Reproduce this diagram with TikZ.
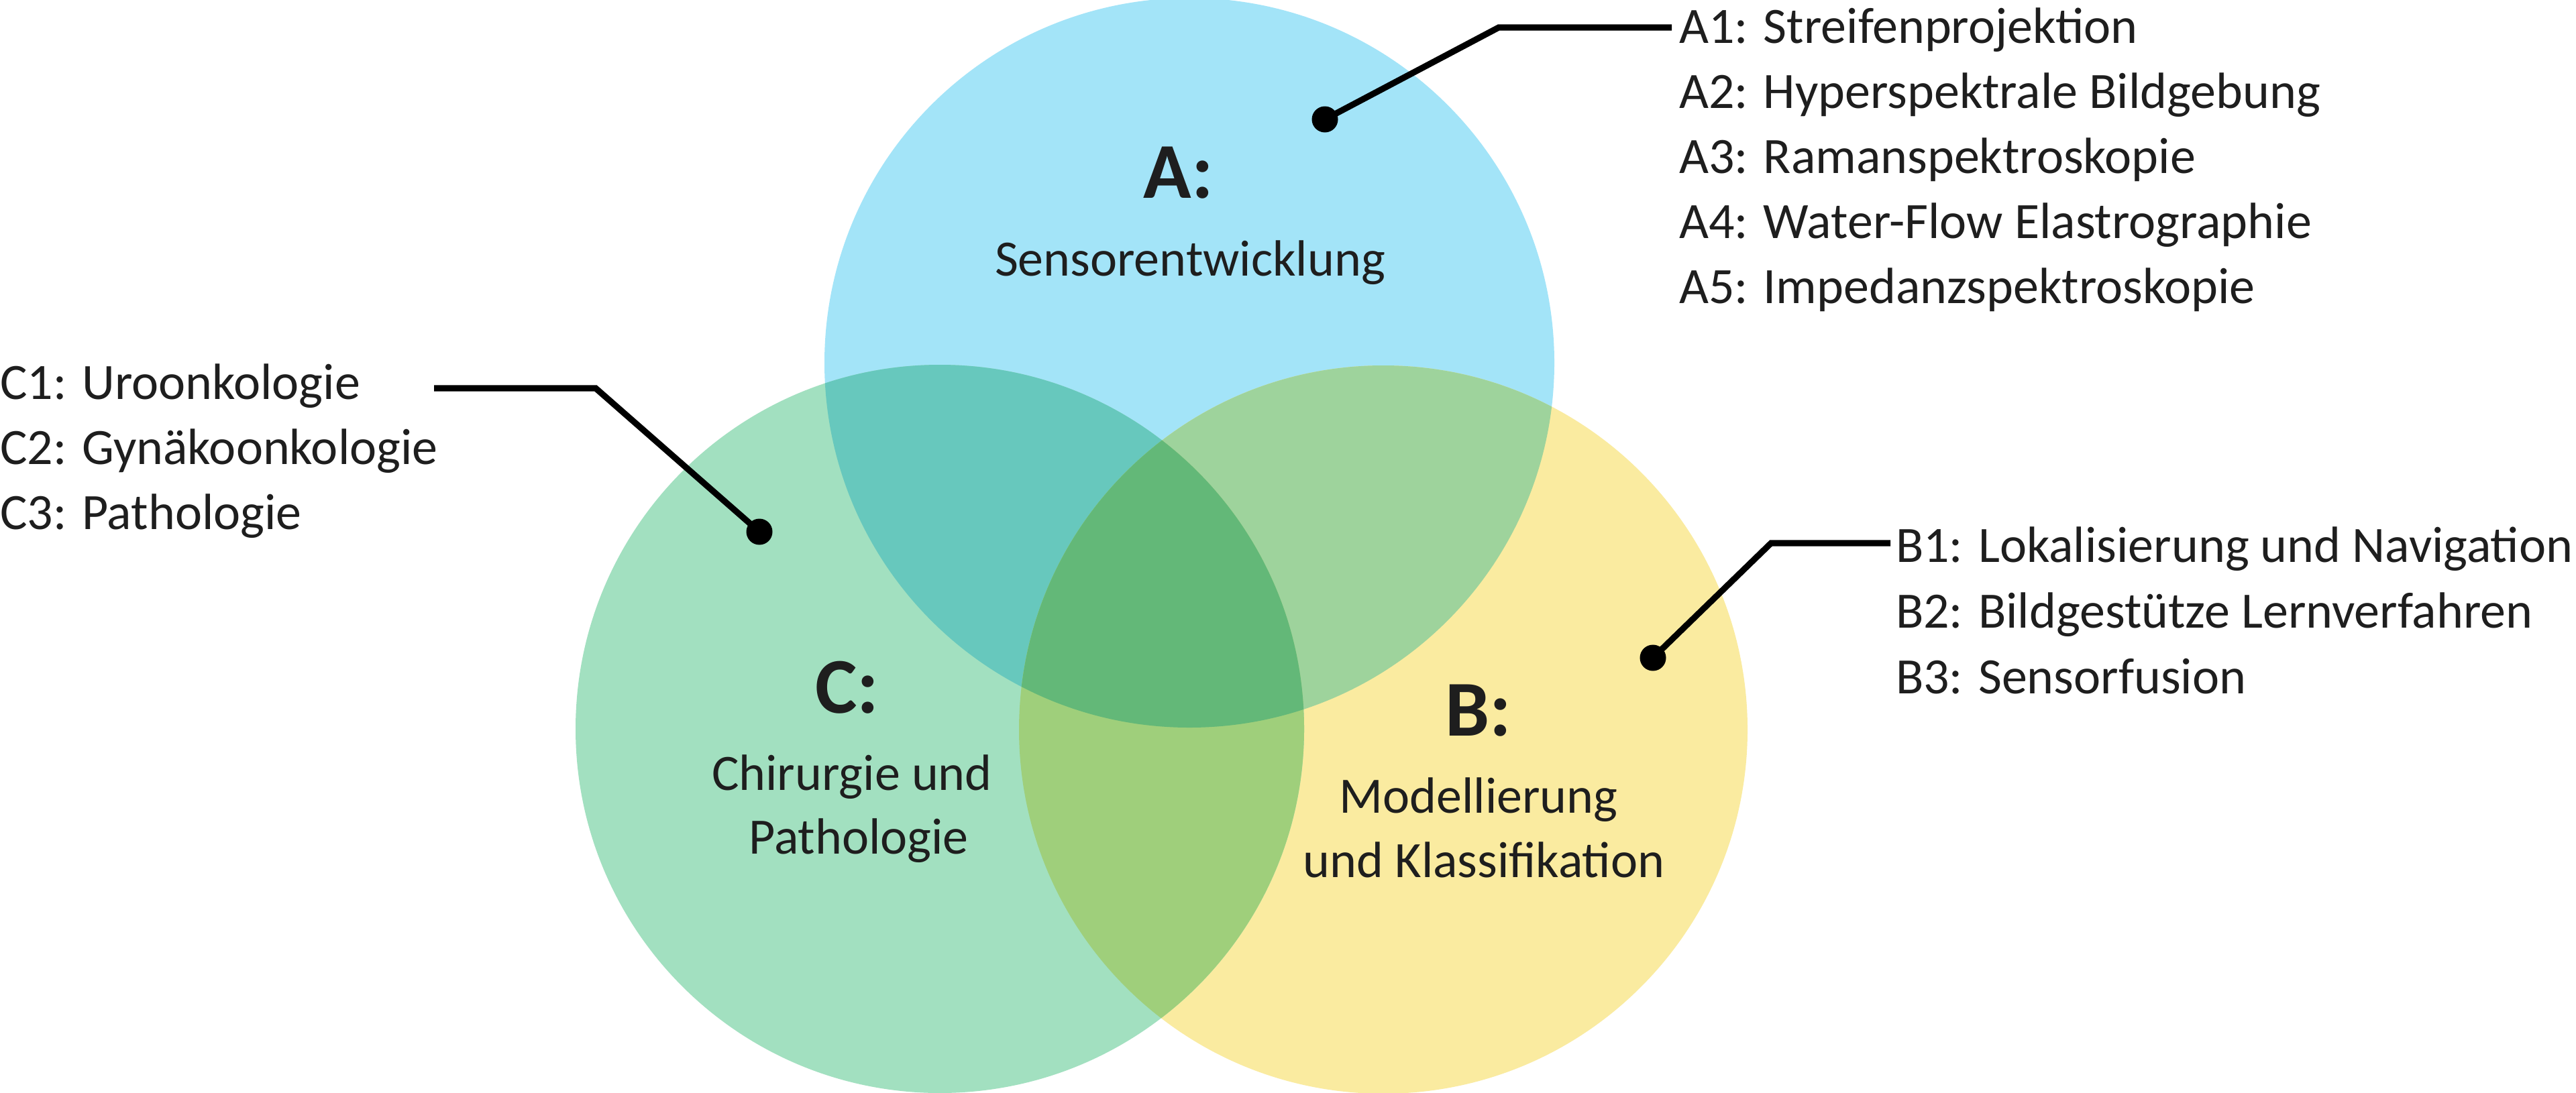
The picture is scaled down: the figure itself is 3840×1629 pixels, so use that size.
\documentclass[tikz,border=0pt]{standalone}
\usepackage{fontspec}
\setmainfont{Carlito}
\definecolor{fillA}{HTML}{A3E4F8}
\definecolor{fillB}{HTML}{FAEBA0}
\definecolor{fillC}{HTML}{A2E0C0}
\definecolor{fillAC}{HTML}{67C8BD}
\definecolor{fillAB}{HTML}{9ED39C}
\definecolor{fillBC}{HTML}{9FCF7B}
\definecolor{fillABC}{HTML}{63B878}
\definecolor{txt}{HTML}{1E1E1E}
\begin{document}
\begin{tikzpicture}[x=0.25pt,y=-0.25pt,
  lbl/.style={inner sep=0pt, outer sep=0pt, text=txt, font=\fontsize{19}{22}\selectfont},
  bigl/.style={inner sep=0pt, outer sep=0pt, text=txt, font=\fontsize{29.5}{34}\selectfont\bfseries},
  dotn/.style={circle, fill=black, inner sep=0pt, minimum size=9.75pt},
  leader/.style={line width=2.3pt, black, line join=miter}]
\useasboundingbox (0,0) rectangle (3840,1629);
\fill[white] (0,0) rectangle (3840,1629);
\coordinate (cA) at (1773,541);
\coordinate (cC) at (1401,1087);
\coordinate (cB) at (2062,1088);
\def\rA{136pt}
\def\rB{135.75pt}
\def\rC{135.75pt}
% base circles
\fill[fillA] (cA) circle (\rA);
\fill[fillB] (cB) circle (\rB);
\fill[fillC] (cC) circle (\rC);
% pairwise overlaps
\begin{scope}
  \clip (cA) circle (\rA);
  \fill[fillAC] (cC) circle (\rC);
  \fill[fillAB] (cB) circle (\rB);
\end{scope}
\begin{scope}
  \clip (cB) circle (\rB);
  \fill[fillBC] (cC) circle (\rC);
\end{scope}
% triple overlap
\begin{scope}
  \clip (cA) circle (\rA);
  \clip (cB) circle (\rB);
  \fill[fillABC] (cC) circle (\rC);
\end{scope}

% circle titles
\node[bigl, anchor=base] (tA) at (1757,295) {A:};
\node[lbl, anchor=base] (sA) at (1774,411) {Sensorentwicklung};
\node[bigl, anchor=base] (tC) at (1263,1063) {C:};
\node[lbl, anchor=base] (sC1) at (1270,1178) {Chirurgie und};
\node[lbl, anchor=base] (sC2) at (1280,1273) {Pathologie};
\node[bigl, anchor=base] (tB) at (2204,1097) {B:};
\node[lbl, anchor=base] (sB1) at (2204,1212) {Modellierung};
\node[lbl, anchor=base] (sB2) at (2212,1308) {und Klassifikation};

% lists
\node[lbl, anchor=base west] (a1) at (2503,64) {A1: Streifenprojektion};
\node[lbl, anchor=base west] (a2) at (2503,161) {A2: Hyperspektrale Bildgebung};
\node[lbl, anchor=base west] (a3) at (2503,258) {A3: Ramanspektroskopie};
\node[lbl, anchor=base west] (a4) at (2503,355) {A4: Water-Flow Elastrographie};
\node[lbl, anchor=base west] (a5) at (2503,452) {A5: Impedanzspektroskopie};

\node[lbl, anchor=base west] (c1) at (0,595) {C1: Uroonkologie};
\node[lbl, anchor=base west] (c2) at (0,692) {C2: Gynäkoonkologie};
\node[lbl, anchor=base west] (c3) at (0,789) {C3: Pathologie};

\node[lbl, anchor=base west] (b1) at (2826,838) {B1: Lokalisierung und Navigation};
\node[lbl, anchor=base west] (b2) at (2826,936) {B2: Bildgestütze Lernverfahren};
\node[lbl, anchor=base west] (b3) at (2826,1034) {B3: Sensorfusion};

% leader lines
\node[dotn] (dA) at (1975,178) {};
\coordinate (kA) at (2234,41);
\coordinate (eA) at (2492,41);
\draw[leader] (dA.center) -- (kA) -- (eA);

\node[dotn] (dC) at (1132,793) {};
\coordinate (kC) at (888,579);
\coordinate (eC) at (647,579);
\draw[leader] (dC.center) -- (kC) -- (eC);

\node[dotn] (dB) at (2464,981) {};
\coordinate (kB) at (2640,810);
\coordinate (eB) at (2818,810);
\draw[leader] (dB.center) -- (kB) -- (eB);
\end{tikzpicture}
\end{document}
